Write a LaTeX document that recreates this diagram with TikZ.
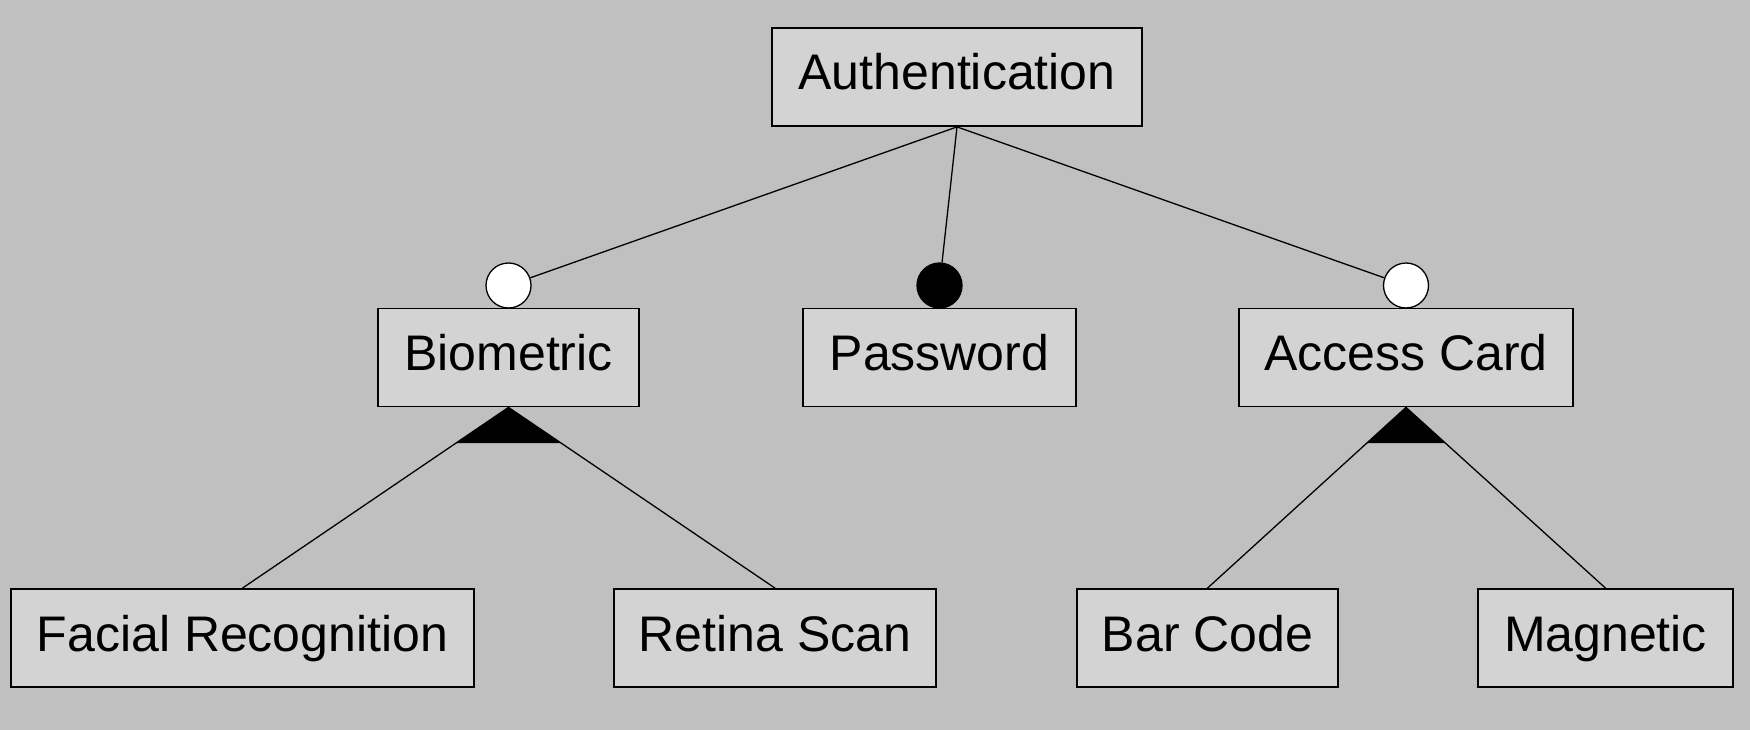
\documentclass[tikz,border=0pt]{standalone}
\usepackage{fontspec}
\setmainfont{Liberation Sans}
\usetikzlibrary{calc}
\definecolor{bgc}{RGB}{192,192,192}
\definecolor{boxc}{RGB}{211,211,211}
\begin{document}
\begin{tikzpicture}[x=1pt,y=-1pt,
  feat/.style={draw=black,line width=1.8pt,fill=boxc,minimum height=98pt,inner sep=0pt,
    text height=38pt,text depth=12pt,
    font=\fontsize{50}{60}\selectfont},
  optc/.style={circle,draw=black,line width=1.3pt,fill=white,minimum size=45pt,inner sep=0pt},
  mandc/.style={circle,draw=black,line width=1.3pt,fill=black,minimum size=45pt,inner sep=0pt},
  conn/.style={draw=black,line width=1.3pt}]
\fill[bgc] (0,0) rectangle (1750,730);
\useasboundingbox (0,0) rectangle (1750,730);
\node[feat,minimum width=370pt] (auth) at (957,77) {Authentication};
\node[feat,minimum width=261pt] (bio) at (508.5,357.5) {Biometric};
\node[feat,minimum width=273pt] (pwd) at (939.5,357.5) {Password};
\node[feat,minimum width=334pt] (acc) at (1406,357.5) {Access Card};
\node[feat,minimum width=463pt] (fac) at (242.5,638) {Facial Recognition};
\node[feat,minimum width=322pt] (ret) at (775,638) {Retina Scan};
\node[feat,minimum width=261pt] (bar) at (1207.5,638) {Bar Code};
\node[feat,minimum width=255pt] (mag) at (1605.5,638) {Magnetic};
\node[optc] (cbio) at (508.5,285.5) {};
\node[mandc] (cpwd) at (939.5,285.5) {};
\node[optc] (cacc) at (1406,285.5) {};
\draw[conn] (auth.south) -- (cbio);
\draw[conn] (auth.south) -- (cpwd);
\draw[conn] (auth.south) -- (cacc);
\fill[black] (bio.south) -- ($(bio.south)!0.198!(fac.north)$) -- ($(bio.south)!0.198!(ret.north)$) -- cycle;
\fill[black] (acc.south) -- ($(acc.south)!0.198!(bar.north)$) -- ($(acc.south)!0.198!(mag.north)$) -- cycle;
\draw[conn] (bio.south) -- (fac.north);
\draw[conn] (bio.south) -- (ret.north);
\draw[conn] (acc.south) -- (bar.north);
\draw[conn] (acc.south) -- (mag.north);
\end{tikzpicture}
\end{document}
